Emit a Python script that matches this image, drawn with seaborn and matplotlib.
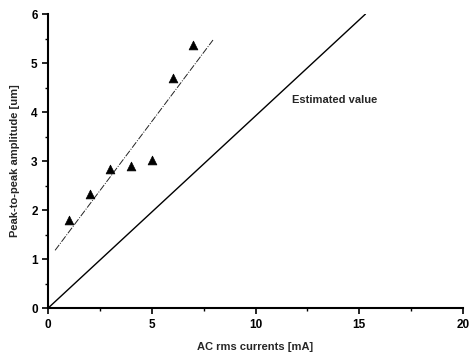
import matplotlib
matplotlib.use("Agg")
import matplotlib.pyplot as plt
import seaborn as sns
import numpy as np
import pandas as pd
from matplotlib.ticker import MultipleLocator

sns.set_theme(style="ticks")
plt.rcParams['font.family'] = ['Liberation Sans', 'DejaVu Sans']

current = [1, 2, 3, 4, 5, 6, 7]
amplitude = [1.79, 2.33, 2.84, 2.89, 3.03, 4.69, 5.36]
fit_x = [0.34, 7.95]
fit_y = [1.18, 5.47]
est_x = [0, 15.3]
est_y = [0, 6.0]

df = pd.DataFrame({"x": current, "y": amplitude})

fig = plt.figure(figsize=(4.71, 3.6), dpi=100)
ax = fig.add_axes([0.102, 0.144, 0.881, 0.817])

sns.lineplot(x=est_x, y=est_y, ax=ax, color="black", lw=1.0)
sns.lineplot(x=fit_x, y=fit_y, ax=ax, color="#222222", lw=0.7, linestyle=(0, (7, 1.5, 1, 1.5)))
sns.scatterplot(data=df, x="x", y="y", ax=ax, marker="^", color="black", s=40, edgecolor="black", zorder=5)

ax.text(11.75, 4.24, "Estimated value", fontsize=8, fontweight="bold", va="center", ha="left")

ax.set_xlim(0, 20)
ax.set_ylim(0, 6)
ax.set_xticks([0, 5, 10, 15, 20])
ax.set_yticks([0, 1, 2, 3, 4, 5, 6])
ax.xaxis.set_minor_locator(MultipleLocator(2.5))
ax.yaxis.set_minor_locator(MultipleLocator(0.5))
ax.tick_params(which="major", direction="out", length=4, width=1.2, colors="black", labelsize=8.5)
ax.tick_params(which="minor", direction="out", length=2, width=1.0, colors="black")
for lab in ax.get_xticklabels() + ax.get_yticklabels():
    lab.set_fontweight("bold")
ax.set_xlabel("AC rms currents [mA]", fontsize=8, fontweight="bold", labelpad=8)
ax.set_ylabel("Peak-to-peak amplitude [um]", fontsize=8, fontweight="bold", labelpad=8)
sns.despine(ax=ax)
ax.spines["left"].set_linewidth(1.5)
ax.spines["bottom"].set_linewidth(1.5)
ax.spines["left"].set_color("black")
ax.spines["bottom"].set_color("black")

fig.savefig("out.png", dpi=100)
